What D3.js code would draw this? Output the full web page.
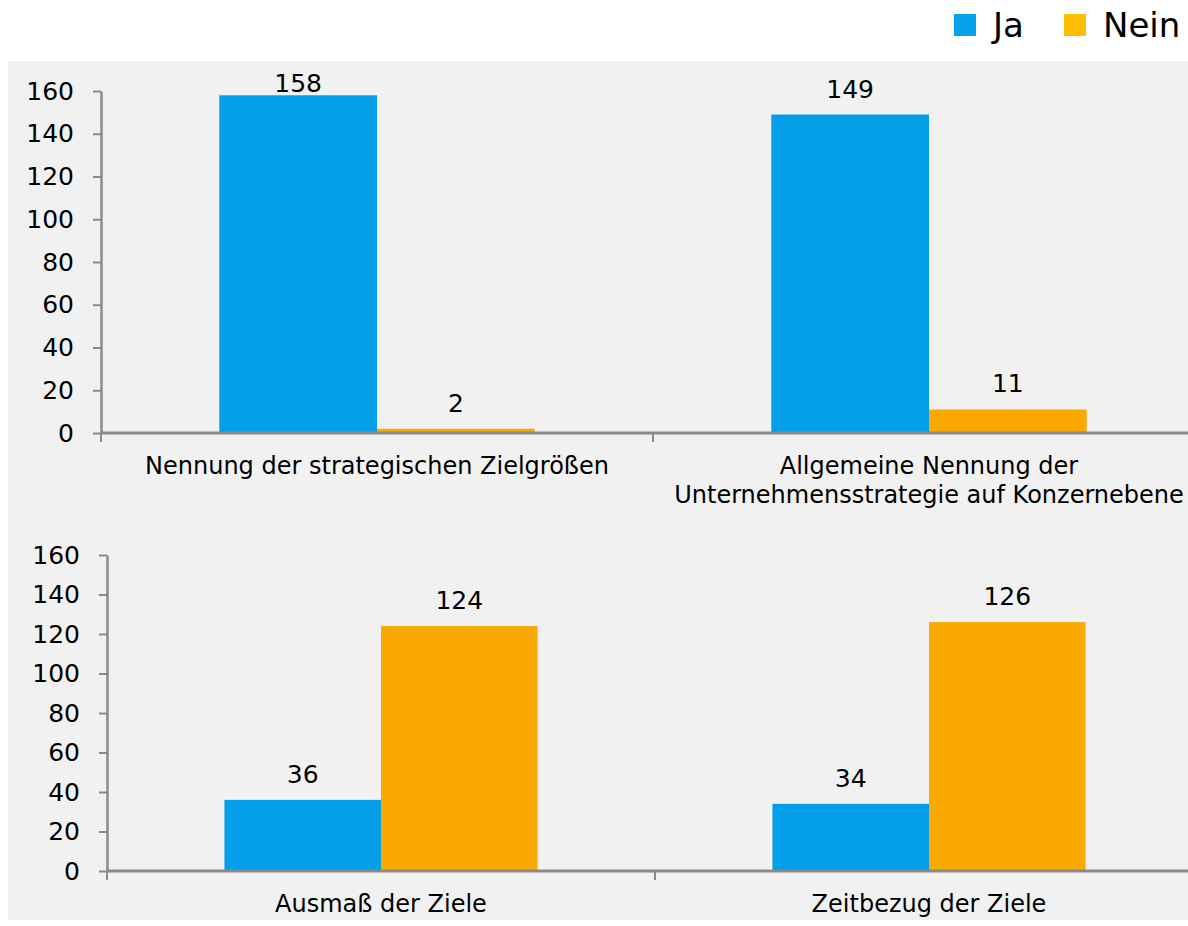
<!DOCTYPE html>
<html>
<head>
<meta charset="utf-8">
<script src="https://cdn.jsdelivr.net/npm/d3@7"></script>
<style>
  html, body { margin: 0; padding: 0; background: #ffffff; }
  svg { display: block; font-family: "DejaVu Sans", Verdana, sans-serif; }
</style>
</head>
<body>
<svg id="chart" width="1188" height="926"></svg>
<script>
// Series and their colours
const series = ["Ja", "Nein"];
const barColors = ["#039fe9", "#f9a900"];
const legendColors = ["#05a3ee", "#ffbf00"];

// Upper chart
const topCategories = [
  ["Nennung der strategischen Zielgrößen"],
  ["Allgemeine Nennung der", "Unternehmensstrategie auf Konzernebene"]
];
const topJa = [158, 149];
const topNein = [2, 11];

// Lower chart
const bottomCategories = [
  ["Ausmaß der Ziele"],
  ["Zeitbezug der Ziele"]
];
const bottomJa = [36, 34];
const bottomNein = [124, 126];

// Shared value axis
const yTicks = [0, 20, 40, 60, 80, 100, 120, 140, 160];
const yMax = 160;

const svg = d3.select("#chart");
const axisColor = "#8a8a8a";

// Panel background
svg.append("rect")
  .attr("x", 8).attr("y", 61)
  .attr("width", 1180).attr("height", 859)
  .attr("fill", "#f1f1f1");

function drawPanel(cfg) {
  const g = svg.append("g");
  const cats = cfg.categories.map(c => c.join(" "));
  const x = d3.scaleBand().domain(cats).range([cfg.left, cfg.right]).paddingInner(0).paddingOuter(0);
  const xs = d3.scaleBand().domain(series).range([0, x.bandwidth()]).paddingInner(0).paddingOuter(0.75);
  const y = d3.scaleLinear().domain([0, yMax]).range([cfg.bottom, cfg.top]);

  // Value axis
  const yAxis = g.append("g")
    .attr("transform", `translate(${cfg.left},0)`)
    .call(d3.axisLeft(y).tickValues(yTicks).tickSize(8).tickPadding(19).tickSizeOuter(0));
  yAxis.select(".domain").attr("stroke", axisColor).attr("stroke-width", 2.5);
  yAxis.selectAll(".tick line").attr("stroke", axisColor).attr("stroke-width", 2);
  yAxis.selectAll(".tick text")
    .attr("fill", "#000").style("font-size", "25px")
    .style("font-family", "'DejaVu Sans', Verdana, sans-serif");

  // Bars
  const rows = cats.map((c, i) => ({ cat: c, values: [cfg.ja[i], cfg.nein[i]] }));
  const grp = g.selectAll("g.cat").data(rows).join("g")
    .attr("class", "cat")
    .attr("transform", d => `translate(${x(d.cat)},0)`);
  grp.selectAll("rect").data(d => d.values.map((v, k) => ({ s: series[k], v, k })))
    .join("rect")
    .attr("x", d => xs(d.s))
    .attr("width", xs.bandwidth())
    .attr("y", d => y(d.v))
    .attr("height", d => y(0) - y(d.v))
    .attr("fill", d => barColors[d.k]);

  // Value labels (kept inside the plot area)
  grp.selectAll("text.val").data(d => d.values.map((v, k) => ({ s: series[k], v, k })))
    .join("text")
    .attr("class", "val")
    .attr("x", d => xs(d.s) + xs.bandwidth() / 2)
    .attr("y", d => Math.max(y(d.v) - 17, y(yMax) + 1))
    .attr("text-anchor", "middle")
    .style("font-size", "25px")
    .attr("fill", "#000")
    .text(d => d.v);

  // Category axis
  g.append("line")
    .attr("x1", cfg.left).attr("x2", cfg.right)
    .attr("y1", y(0)).attr("y2", y(0))
    .attr("stroke", axisColor).attr("stroke-width", 3);
  const bounds = [cfg.left].concat(cats.map(c => x(c) + x.bandwidth()));
  g.selectAll("line.ctick").data(bounds).join("line")
    .attr("class", "ctick")
    .attr("x1", d => d).attr("x2", d => d)
    .attr("y1", y(0)).attr("y2", y(0) + 9)
    .attr("stroke", axisColor).attr("stroke-width", 2);

  // Category labels
  const lab = g.selectAll("text.cat").data(cfg.categories).join("text")
    .attr("class", "cat")
    .attr("text-anchor", "middle")
    .attr("fill", "#000")
    .style("font-size", "24px");
  lab.selectAll("tspan").data((d, i) => d.map(t => ({ t, i }))).join("tspan")
    .attr("x", d => x(cats[d.i]) + x.bandwidth() / 2)
    .attr("y", (d, j) => y(0) + 41 + j * 29)
    .text(d => d.t);
}

drawPanel({ categories: topCategories, ja: topJa, nein: topNein,
  left: 101, right: 1205, top: 91, bottom: 433 });
drawPanel({ categories: bottomCategories, ja: bottomJa, nein: bottomNein,
  left: 107, right: 1203, top: 555, bottom: 871 });

// Legend
const legend = svg.append("g").attr("transform", "translate(954,14)");
const legendX = [0, 110];
series.forEach((s, i) => {
  legend.append("rect")
    .attr("x", legendX[i]).attr("y", 0)
    .attr("width", 22).attr("height", 22)
    .attr("fill", legendColors[i]);
  legend.append("text")
    .attr("x", legendX[i] + 39).attr("y", 23)
    .attr("fill", "#000")
    .style("font-size", "34px")
    .text(s);
});
</script>
</body>
</html>
